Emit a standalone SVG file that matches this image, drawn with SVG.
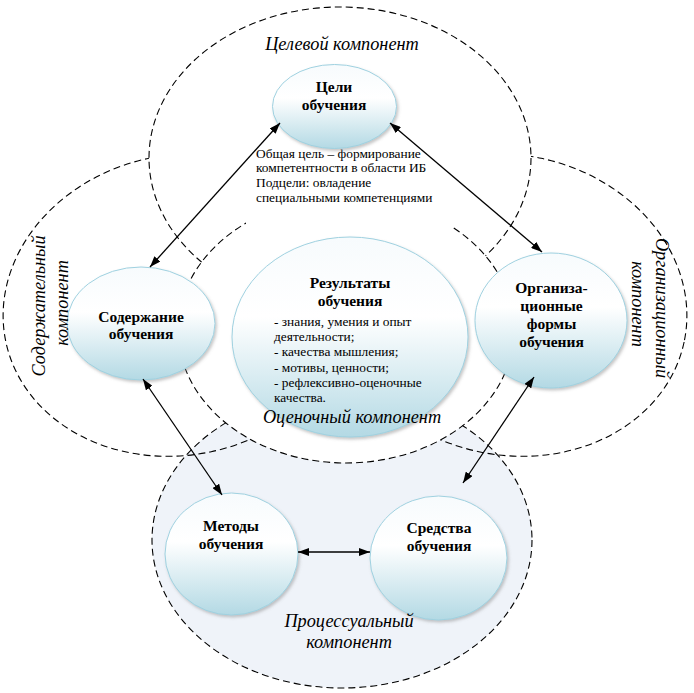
<svg xmlns="http://www.w3.org/2000/svg" width="694" height="693" viewBox="0 0 694 693">
<style>
.zone{fill:none;stroke:#000;stroke-width:1.1;stroke-dasharray:7 4}
.zw{fill:#fff}
.proc{fill:#eff3f9}
.node{fill:url(#ng);stroke:#9fd1e0;stroke-width:1;filter:url(#sh)}
.nt{font-family:"Liberation Serif","Times New Roman",serif;font-weight:bold;font-size:15.5px;fill:#000;text-anchor:middle}
.bt{font-family:"Liberation Serif","Times New Roman",serif;font-size:13.4px;fill:#000}
.lab{font-family:"Liberation Serif","Times New Roman",serif;font-style:italic;font-size:18.3px;fill:#000;text-anchor:middle}
.con{fill:none;stroke:#000;stroke-width:1.3;marker-start:url(#ah);marker-end:url(#ah)}
</style>
<defs>
<linearGradient id="ng" x1="0" y1="0" x2="0" y2="1">
<stop offset="0" stop-color="#f7fbfd"/>
<stop offset="0.4" stop-color="#ffffff"/>
<stop offset="1" stop-color="#b3d9e4"/>
</linearGradient>
<filter id="sh" x="-10%" y="-10%" width="125%" height="125%">
<feDropShadow dx="1.5" dy="2" stdDeviation="1.5" flood-color="#808080" flood-opacity="0.45"/>
</filter>
<marker id="ah" markerUnits="userSpaceOnUse" markerWidth="11" markerHeight="8" refX="11" refY="4" orient="auto-start-reverse">
<path d="M0,0 L11,4 L0,8 z" fill="#000"/>
</marker>
</defs>

<g id="zones">
<ellipse id="zone-process" class="zone proc" cx="342" cy="540" rx="190" ry="148"/>
<ellipse id="zone-content" class="zone" cx="180" cy="305" rx="178" ry="150" transform="rotate(-12 180 305)"/>
<ellipse id="zone-org" class="zone" cx="510" cy="305" rx="178" ry="150" transform="rotate(12 510 305)"/>
<ellipse id="zone-goal" class="zone zw" cx="340" cy="158" rx="191" ry="151"/>
<ellipse id="zone-eval" class="zone zw" cx="346" cy="330" rx="168" ry="133"/>
</g>

<g id="goal-text">
<rect x="246" y="142" width="207" height="88" fill="#fff"/>
<text class="bt" x="256" y="158">Общая цель – формирование</text>
<text class="bt" x="256" y="172">компетентности в области ИБ</text>
<text class="bt" x="256" y="187">Подцели: овладение</text>
<text class="bt" x="256" y="202">специальными компетенциями</text>
</g>

<g id="node-goals">
<ellipse class="node" cx="334.5" cy="106.5" rx="62" ry="42"/>
<text class="nt" x="334" y="92">Цели</text>
<text class="nt" x="334" y="110">обучения</text>
</g>

<g id="node-content">
<ellipse class="node" cx="141" cy="323.5" rx="74" ry="56.5"/>
<text class="nt" x="141" y="322">Содержание</text>
<text class="nt" x="141" y="339">обучения</text>
</g>

<g id="node-results">
<ellipse class="node" cx="350" cy="337" rx="118" ry="100"/>
<text class="nt" x="350" y="288">Результаты</text>
<text class="nt" x="350" y="306">обучения</text>
<text class="bt" x="274" y="326">- знания, умения и опыт</text>
<text class="bt" x="274" y="341">деятельности;</text>
<text class="bt" x="274" y="356">- качества мышления;</text>
<text class="bt" x="274" y="371.5">- мотивы, ценности;</text>
<text class="bt" x="274" y="386.5">- рефлексивно-оценочные</text>
<text class="bt" x="274" y="401.5">качества.</text>
</g>

<g id="node-org">
<ellipse class="node" cx="551" cy="320.5" rx="76" ry="67.5"/>
<text class="nt" x="551.5" y="293">Организа-</text>
<text class="nt" x="551.5" y="311">ционные</text>
<text class="nt" x="551.5" y="329">формы</text>
<text class="nt" x="551.5" y="347">обучения</text>
</g>

<g id="node-methods">
<ellipse class="node" cx="231.5" cy="554" rx="66.5" ry="61"/>
<text class="nt" x="231" y="531">Методы</text>
<text class="nt" x="231" y="549">обучения</text>
</g>

<g id="node-means">
<ellipse class="node" cx="438.5" cy="558" rx="68.5" ry="62"/>
<text class="nt" x="439" y="533">Средства</text>
<text class="nt" x="439" y="551">обучения</text>
</g>

<g id="connectors">
<line class="con" x1="280" y1="123" x2="150" y2="267"/>
<line class="con" x1="390" y1="123" x2="542" y2="252"/>
<line class="con" x1="143" y1="379" x2="222" y2="495"/>
<line class="con" x1="534" y1="377" x2="463" y2="483"/>
<line class="con" x1="298" y1="552" x2="370" y2="552"/>
</g>

<g id="zone-labels">
<text class="lab" x="342" y="50">Целевой компонент</text>
<text class="lab" x="352" y="423">Оценочный компонент</text>
<text class="lab" x="349" y="627">Процессуальный</text>
<text class="lab" x="349" y="648">компонент</text>
<text class="lab" transform="translate(45 306) rotate(-90)">Содержательный</text>
<text class="lab" transform="translate(68 303) rotate(-90)">компонент</text>
<text class="lab" transform="translate(656 308) rotate(90)">Организационный</text>
<text class="lab" transform="translate(632 304) rotate(90)">компонент</text>
</g>
</svg>
